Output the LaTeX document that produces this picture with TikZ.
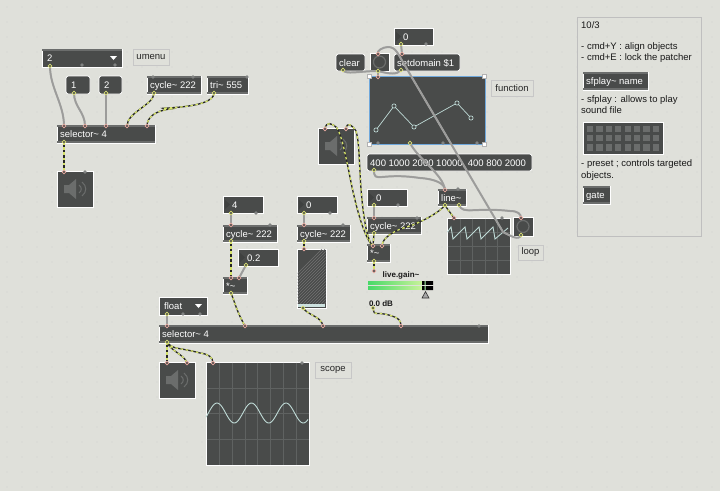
\documentclass[tikz,border=0pt]{standalone}
\usepackage{fontspec}
\setmainfont{Liberation Sans}
\usetikzlibrary{calc}
\pgfdeclarelayer{front}
\pgfsetlayers{main,front}
\definecolor{bgc}{HTML}{DFE0DA}
\definecolor{dark}{HTML}{494B4A}
\definecolor{band}{HTML}{6B6D6C}
\definecolor{sigy}{HTML}{D5E36A}
\definecolor{gcable}{HTML}{9C9C9A}
\definecolor{inr}{HTML}{E8A9A0}
\definecolor{outg}{HTML}{D9DF75}
\definecolor{selb}{HTML}{6FA8DC}
\definecolor{scline}{HTML}{5F6261}
\definecolor{trace}{HTML}{BFDAD6}
\definecolor{gleft}{HTML}{48D968}
\definecolor{gright}{HTML}{C8F29A}
\tikzset{
  x=1pt,y=-1pt,
  base/.style={anchor=north west,draw=white,line width=0.7pt,fill=dark,inner xsep=3pt,inner ysep=0pt,outer sep=0pt,text=white,font=\fontsize{9.5}{11}\selectfont,align=left},
  labelbox/.style={anchor=north west,draw=black!22,line width=0.8pt,fill=bgc,inner xsep=2pt,inner ysep=0pt,outer sep=0pt,text=black!85,font=\fontsize{9.5}{11}\selectfont,align=left},
  inl/.style={circle,draw=inr,fill=dark,line width=0.7pt,minimum size=3.6pt,inner sep=0pt},
  outl/.style={circle,draw=outg,fill=dark,line width=0.7pt,minimum size=3.6pt,inner sep=0pt},
  sig/.style={preaction={draw=black!85,line width=1.3pt,solid},draw=sigy,line width=1.3pt,dash pattern=on 2.6pt off 2.6pt},
  ctl/.style={preaction={draw=black!35,line width=2pt},draw=gcable,line width=1.4pt},
  plain/.style={font=\fontsize{9.5}{11}\selectfont,text=black!90,inner sep=0pt,anchor=base west,align=left},
  fpt/.style={circle,draw=trace,fill=dark,line width=0.7pt,minimum size=4.2pt,inner sep=0pt},
  handle/.style={fill=white,draw=black!30,line width=0.3pt,minimum size=4.6pt,inner sep=0pt},
  objtext/.style={anchor=base west,inner sep=0pt,text=white,font=\fontsize{9.5}{11}\selectfont},
  gbar/.style={anchor=north west,minimum width=54,minimum height=3.8,inner sep=0pt,outer sep=0pt,left color=gleft,right color=gright},
}
% \objb name x1 y1 x2 y2 text : object box with top and bottom bands
\newcommand{\objb}[6]{%
  \node[base,minimum width=#4-#2,minimum height=#5-#3] (#1) at (#2,#3) {};
  \fill[band] (#2,#3) rectangle (#4,#3+2.2);
  \fill[band] (#2,#5-2.2) rectangle (#4,#5);
  \node[objtext] (#1t) at (#2+3,#3+12.3) {#6};
}
% \msgb name x1 y1 x2 y2 text : rounded message box
\newcommand{\msgb}[6]{%
  \node[base,rounded corners=2.5pt,minimum width=#4-#2,minimum height=#5-#3] (#1) at (#2,#3) {};
  \node[objtext] (#1t) at (#2+3,#3+12.3) {#6};
}
% \numb name x1 y1 x2 y2 text : number box with triangle
\newcommand{\numb}[6]{%
  \node[base,minimum width=#4-#2,minimum height=#5-#3] (#1) at (#2,#3) {};
  \fill[band!130] (#2+2,#3+4) -- (#2+7,#3+8.5) -- (#2+2,#3+13) -- cycle;
  \node[objtext] (#1t) at (#2+9,#3+12.3) {#6};
}
% \dacb name x y : speaker object
\newcommand{\dacb}[3]{%
  \node[base,minimum width=36,minimum height=36] (#1) at (#2,#3) {};
  \fill[band] (#2+7,#3+14) -- (#2+12,#3+14) -- (#2+19,#3+8) -- (#2+19,#3+28) -- (#2+12,#3+22) -- (#2+7,#3+22) -- cycle;
  \draw[band,line width=1pt] (#2+22,#3+14) .. controls (#2+25,#3+16) and (#2+25,#3+20) .. (#2+22,#3+22);
  \draw[band,line width=1pt] (#2+25,#3+11) .. controls (#2+30,#3+15) and (#2+30,#3+21) .. (#2+25,#3+25);
}
\begin{document}
\begin{tikzpicture}
\useasboundingbox (0,0) rectangle (720,491);
\fill[bgc] (0,0) rectangle (720,491);
\foreach \i in {0,...,47} \foreach \j in {0,...,32}
  \fill[black!28] (\i*15+7,\j*15+7) circle (0.45);

% ---- notes panel
\node[anchor=north west,draw=black!25,line width=0.8pt,minimum width=124,minimum height=219,outer sep=0pt,inner sep=0pt] (panel) at (577,17) {};
\node[plain] (n1) at (581,28) {10/3};
\node[plain] (n2) at (581,49) {- cmd+Y : align objects};
\node[plain] (n3) at (581,60) {- cmd+E : lock the patcher};
\objb{sfp}{583}{72}{648}{90}{sfplay\textasciitilde\ name}
\node[plain] (n4) at (581,102) {- sfplay : allows to play};
\node[plain] (n5) at (581,113) {sound file};
\node[base,minimum width=80,minimum height=32] (preset) at (583,122) {};
\foreach \i in {0,...,7} \foreach \j in {0,1,2}
  \fill[band] (587+\i*9.4,126+\j*9.2) rectangle +(6.2,6.2);
\node[plain] (n6) at (581,166) {- preset ; controls targeted};
\node[plain] (n7) at (581,178) {objects.};
\objb{gate}{583}{186}{610}{204}{gate}

% ---- top left patch
\node[base,minimum width=80,minimum height=18] (um) at (42,49) {};
\fill[band] (42,49) rectangle (122,51);
\node[objtext] (umt) at (47,61) {2};
\fill[white] (110,56) -- (117,56) -- (113.5,60) -- cycle;
\node[labelbox,minimum width=36,minimum height=16] (uml) at (133,49) {umenu};
\msgb{m1}{66}{76}{90}{94}{\hspace{2pt}1}
\msgb{m2}{99}{76}{122}{94}{\hspace{2pt}2}
\objb{cy1}{147}{76}{201}{94}{cycle\textasciitilde\ 222}
\objb{tri}{207}{76}{248}{94}{tri\textasciitilde\ 555}
\objb{sel1}{57}{125}{155}{143}{selector\textasciitilde\ 4}
\dacb{dac1}{57}{171}

% ---- middle patch
\numb{n4b}{223}{196}{263}{213}{4}
\objb{cy2}{223}{225}{277}{242}{cycle\textasciitilde\ 222}
\numb{n02}{238}{249}{278}{266}{0.2}
\objb{mu1}{223}{277}{247}{294}{*\textasciitilde}
\numb{n0b}{297}{196}{337}{213}{0}
\objb{cy3}{297}{225}{350}{242}{cycle\textasciitilde\ 222}
\node[base,minimum width=29,minimum height=59] (mtr) at (297,249) {};
\begin{scope}
  \clip (297.5,249.5) rectangle (325.5,304);
  \foreach \k in {0,3,...,90}
    \draw[black!55,line width=0.6pt] (297+\k-30,304) -- (297+\k+30,244);
\end{scope}
\fill[trace!80!white] (298,304) rectangle (325,307);
\node[base,minimum width=48,minimum height=18] (flt) at (159,297) {};
\node[objtext] (fltt) at (164,309.5) {float};
\fill[white] (195,304) -- (202,304) -- (198.5,308) -- cycle;
\objb{sel2}{159}{325}{488}{343}{selector\textasciitilde\ 4}
\dacb{dac2}{159}{362}
\node[base,minimum width=103,minimum height=103] (sc1) at (206,362) {};
\foreach \x in {219,232,245,257,270,283,296} \draw[scline] (\x,362.5) -- (\x,464.5);
\foreach \y in {388,413,439} \draw[scline] (206.5,\y) -- (308.5,\y);
\draw[trace,line width=0.9pt] plot[domain=206:308,samples=90,smooth] (\x,{413-10*cos((\x-217)*10.435)});
\node[labelbox,minimum width=36,minimum height=16] (scl) at (315,362) {scope};

% ---- right patch
\numb{n0t}{394}{28}{433}{45}{0}
\msgb{clr}{336}{54}{365}{71}{clear}
\node[base,minimum width=19,minimum height=18] (btn) at (370,53) {};
\draw[band,line width=1.2pt] (379.5,62) circle (6);
\msgb{sd}{394}{54}{460}{71}{setdomain \$1}
\node[base,draw=selb,line width=1pt,minimum width=116,minimum height=68] (fn) at (369,76) {};
\draw[trace,line width=0.7pt] (376,130) -- (394,106) -- (414,127) -- (457,103) -- (471,118);
\node[fpt] (f1) at (376,130) {};
\node[fpt] (f2) at (394,106) {};
\node[fpt] (f3) at (414,127) {};
\node[fpt] (f4) at (457,103) {};
\node[fpt] (f5) at (471,118) {};
\node[handle] (h1) at (369,76) {};
\node[handle] (h2) at (484,76) {};
\node[handle] (h3) at (369,144) {};
\node[handle] (h4) at (484,144) {};
\node[labelbox,minimum width=42,minimum height=16] (fnl) at (491,80) {function};
\dacb{dac3}{318}{128}
\msgb{ml}{367}{154}{532}{171}{400 1000 2000 10000, 400 800 2000}
\numb{n0m}{367}{189}{407}{206}{0}
\objb{cy4}{367}{217}{421}{234}{cycle\textasciitilde\ 222}
\objb{mu2}{367}{244}{390}{262}{*\textasciitilde}
\objb{ln}{438}{189}{466}{206}{line\textasciitilde}
\node[base,minimum width=63,minimum height=56] (sc2) at (447,218) {};
\foreach \x in {460,472,485,497} \draw[scline] (\x,218.5) -- (\x,273.5);
\foreach \y in {232,246,260} \draw[scline] (447.5,\y) -- (509.5,\y);
\draw[trace,line width=0.9pt] (447.5,232) -- (451,227) -- (453,239) -- (465,227) -- (467,239) -- (479,227) -- (481,239) -- (493,227) -- (495,239) -- (508,228);
\node[base,minimum width=20,minimum height=19] (tog) at (513,217) {};
\draw[band,line width=1.2pt] (523,226.5) circle (6);
\node[labelbox,minimum width=25,minimum height=15] (lpl) at (518,245) {loop};

% ---- live.gain
\node[inner sep=0pt,font=\bfseries\fontsize{8}{10}\selectfont,text=black!90] (lgt) at (401,275) {live.gain\textasciitilde};
\node[gbar] (g1) at (368,281) {};
\node[gbar] (g2) at (368,286) {};
\fill[black] (422,281) rectangle (433,285) (422,286) rectangle (433,290);
\fill[bgc] (368,285) rectangle (433,286);
\fill[white!70!green] (424.5,281) rectangle (425.5,285) (424.5,286) rectangle (425.5,290);
\draw[black!80,fill=black!35,line width=0.6pt] (425.5,291.5) -- (429,298) -- (422,298) -- cycle;
\node[inner sep=0pt,font=\bfseries\fontsize{8}{10}\selectfont,text=black!90] (dbt) at (381,304) {0.0 dB};

% ---- ports (top layer)
\begin{pgfonlayer}{front}
\foreach \nm/\cx/\cy in {
  a1/64/126,a2/85/126,a3/106/126,a4/127/126,a5/147/126,ad/64/172,
  b1/231/225,b2/231/278,b3/239/278,c1/304/225,c2/304/249,
  d1/167/326,d2/245/326,d3/323/326,d4/401/326,
  e1/167/363,e2/187/363,e3/213/363,
  t1/402/54,t2/378/54,t3/378/77,
  g1i/325/129,g2i/346/129,
  h1i/445/190,h2i/374/218,h3i/373/246,h4i/382/246,h5i/454/218,h6i/521/218,h7i/374/271}
  \node[inl] (\nm) at (\cx,\cy) {};
\foreach \nm/\cx/\cy in {
  o1/50/66,o2/74/93,o3/106/93,o4/154/93,o5/214/93,o6/64/142,
  p1/231/213,p2/231/241,p3/246/265,p4/231/293,p5/304/213,p6/304/241,p7/303/308,
  q1/167/314,q2/167/342,
  r1/401/44,r2/343/70,r3/378/71,r4/401/70,r5/410/143,r6/374/170,
  s1/374/205,s2/374/233,s3/374/261,s4/445/205,s5/459/205,s6/521/235,s7/373/308}
  \node[outl] (\nm) at (\cx,\cy) {};
\foreach \cx/\cy in {82/65,115/65,85/172,183/314,200/314,
  153/77,193/77,247/77,256/213,330/213,343/225,270/225,
  479/326,302/363,426/44,378/143,443/143,477/143,
  502/218,398/205,417/218,458/189}
  \fill[band!85] (\cx,\cy) circle (1.8);
\end{pgfonlayer}

% ---- cables
\draw[ctl] (o1.center) .. controls +(0,22) and +(0,-22) .. (a1.center);
\draw[ctl] (o2.center) .. controls +(0,14) and +(0,-14) .. (a2.center);
\draw[ctl] (o3.center) -- (a3.center);
\draw[sig] (o4.center) .. controls +(0,12) and +(0,-14) .. (a4.center);
\draw[sig] (o5.center) .. controls +(0,18) and +(-30,-2) .. (170,109) .. controls +(-16,2) and +(0,-8) .. (a5.center);
\draw[sig] (o6.center) -- (ad.center);

\draw[ctl] (p1.center) -- (b1.center);
\draw[sig] (p2.center) -- (b2.center);
\draw[ctl] (p3.center) -- (b3.center);
\draw[sig] (p4.center) .. controls +(4,10) and +(-8,-14) .. (d2.center);
\draw[ctl] (p5.center) -- (c1.center);
\draw[sig] (p6.center) -- (c2.center);
\draw[sig] (p7.center) .. controls +(6,8) and +(-2,-10) .. (d3.center);
\draw[ctl] (q1.center) -- (d1.center);
\draw[sig] (q2.center) -- (e1.center);
\draw[sig] (q2.center) .. controls +(2,8) and +(-2,-8) .. (e2.center);
\draw[sig] (q2.center) .. controls +(6,8) and +(-22,-6) .. (200,353) .. controls +(8,1) and +(0,-6) .. (e3.center);

\draw[ctl] (r1.center) -- (t1.center);
\draw[ctl] (r2.center) .. controls +(2,5) and +(-18,0) .. (r3.center);
\draw[ctl] (r4.center) .. controls +(-4,5) and +(12,3) .. (r3.center);
\draw[ctl] (r3.center) -- (t3.center);
\draw[ctl] (s6.center) .. controls +(-2,6) and +(8,4) .. (503,232) -- (404,64)
   .. controls +(-6,-10) and +(8,0) .. (388,47) .. controls +(-5,0) and +(-2,-3) .. (t2.center);
\draw[ctl] (r5.center) .. controls +(8,16) and +(-2,-16) .. (h1i.center);
\draw[ctl] (r6.center) .. controls +(0,14) and +(-40,-6) .. (420,178) .. controls +(16,1) and +(0,-6) .. (h1i.center);
\draw[ctl] (s1.center) -- (h2i.center);
\draw[ctl] (s5.center) .. controls +(4,10) and +(-36,-4) .. (510,211) .. controls +(8,0) and +(0,-4) .. (h6i.center);
\draw[sig] (s4.center) .. controls +(2,4) and +(-4,-6) .. (h5i.center);
\draw[sig] (s4.center) .. controls +(-4,6) and +(16,-6) .. (410,226) .. controls +(-16,4) and +(0,-8) .. (h4i.center);
\draw[sig] (g1i.center) .. controls +(1,-8) and +(-5,-5) .. (337,128) .. controls +(5,8) and +(-3,-14) .. (349,172) .. controls +(4,22) and +(-10,-8) .. (h3i.center);
\draw[sig] (g2i.center) .. controls +(1,-8) and +(-4,-6) .. (356,131) .. controls +(3,10) and +(-1,-16) .. (360,172) .. controls +(1,24) and +(-8,-6) .. (h3i.center);
\draw[sig] (s2.center) -- (h3i.center);
\draw[sig] (s3.center) -- (h7i.center);
\draw[sig] (s7.center) .. controls +(2,10) and +(-18,-6) .. (392,316) .. controls +(6,2) and +(0,-6) .. (d4.center);
\end{tikzpicture}
\end{document}
